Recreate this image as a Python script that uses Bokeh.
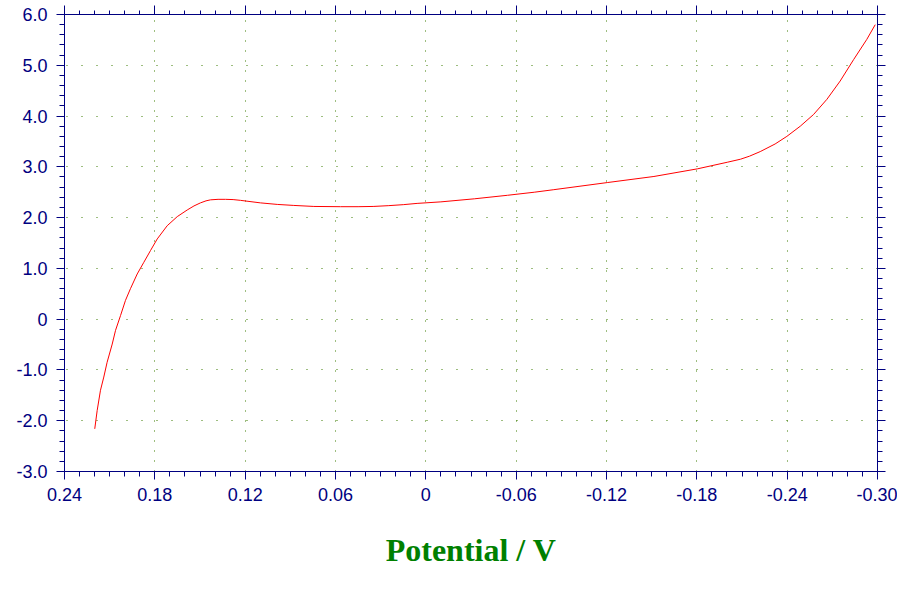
from bokeh.plotting import figure
from bokeh.models import LinearAxis, FixedTicker, Range1d, Grid
from bokeh.embed import file_html
from bokeh.resources import INLINE

# ---- data ----
potential = [0.2199, 0.2183, 0.2161, 0.2139, 0.2117, 0.2083, 0.2061, 0.2028, 0.1995,
             0.1962, 0.1917, 0.1873, 0.1829, 0.1784, 0.1718, 0.1651, 0.1585, 0.1540,
             0.1497, 0.1460, 0.1430, 0.1380, 0.1330, 0.1280, 0.1231, 0.1098, 0.0987,
             0.0877, 0.0744, 0.0567, 0.0450, 0.0350, 0.0250, 0.0150, 0.0058, -0.0100,
             -0.0322, -0.0543, -0.0720, -0.0850, -0.1205, -0.1515, -0.1803, -0.2002,
             -0.2090, -0.2150, -0.2221, -0.2320, -0.2398, -0.2487, -0.2575,
             -0.2664, -0.2752, -0.2841, -0.2929, -0.2985]
current = [-2.16, -1.80, -1.40, -1.14, -0.85, -0.49, -0.22, 0.07, 0.37,
           0.60, 0.89, 1.12, 1.35, 1.58, 1.84, 2.02, 2.15, 2.23,
           2.29, 2.33, 2.35, 2.36, 2.36, 2.355, 2.34, 2.29, 2.26,
           2.24, 2.22, 2.215, 2.215, 2.22, 2.235, 2.255, 2.28, 2.31,
           2.37, 2.44, 2.50, 2.55, 2.69, 2.81, 2.96, 3.09,
           3.15, 3.21, 3.30, 3.45, 3.60, 3.80, 4.03,
           4.33, 4.69, 5.11, 5.51, 5.80]

x_ticks = [0.24, 0.18, 0.12, 0.06, 0.0, -0.06, -0.12, -0.18, -0.24, -0.30]
x_tick_labels = ["0.24", "0.18", "0.12", "0.06", "0", "-0.06", "-0.12", "-0.18", "-0.24", "-0.30"]
y_ticks = [-3.0, -2.0, -1.0, 0.0, 1.0, 2.0, 3.0, 4.0, 5.0, 6.0]
y_tick_labels = ["-3.0", "-2.0", "-1.0", "0", "1.0", "2.0", "3.0", "4.0", "5.0", "6.0"]
x_label = "Potential / V"

x_minor = [round(0.24 - 0.01 * i, 2) for i in range(55)]
y_minor = [round(-3.0 + 0.2 * i, 1) for i in range(46)]

NAVY = "#000080"
GRID = "#3d7d00"

p = figure(width=897, height=592,
           x_range=Range1d(0.24, -0.30), y_range=Range1d(-3.0, 6.0),
           x_axis_type=None, y_axis_type=None,
           output_backend="svg", toolbar_location=None,
           min_border_left=64, min_border_right=20,
           min_border_top=14, min_border_bottom=121)
p.outline_line_color = None
p.background_fill_color = "white"
p.border_fill_color = "white"

xt = FixedTicker(ticks=x_ticks, minor_ticks=x_minor)
yt = FixedTicker(ticks=y_ticks, minor_ticks=y_minor)


def style(ax, tick_out, minor_out):
    ax.axis_line_color = NAVY
    ax.axis_line_width = 1
    ax.major_tick_line_color = NAVY
    ax.minor_tick_line_color = NAVY
    ax.major_tick_out = tick_out
    ax.major_tick_in = 0
    ax.minor_tick_out = minor_out
    ax.minor_tick_in = 0
    ax.major_label_text_color = NAVY
    ax.major_label_text_font = "Liberation Sans"
    ax.major_label_text_font_size = "18px"
    ax.major_label_standoff = 8


bottom = LinearAxis(ticker=xt,
                    major_label_overrides=dict(zip(x_ticks, x_tick_labels)))
style(bottom, 8, 5)
bottom.axis_label = x_label
bottom.axis_label_text_font = "Liberation Serif"
bottom.axis_label_text_font_style = "bold"
bottom.axis_label_text_font_size = "32px"
bottom.axis_label_text_color = "#008000"
bottom.axis_label_standoff = 28
p.add_layout(bottom, "below")

left = LinearAxis(ticker=yt,
                  major_label_overrides=dict(zip(y_ticks, y_tick_labels)))
style(left, 8, 5)
left.major_label_standoff = 9
p.add_layout(left, "left")

top = LinearAxis(ticker=xt)
style(top, 9, 4)
top.major_label_text_color = None
top.major_label_text_font_size = "0px"
top.major_label_standoff = 0
p.add_layout(top, "above")

right = LinearAxis(ticker=yt)
style(right, 8, 5)
right.major_label_text_color = None
right.major_label_text_font_size = "0px"
right.major_label_standoff = 0
p.add_layout(right, "right")

p.add_layout(Grid(dimension=0, ticker=xt, grid_line_color=GRID,
                  grid_line_dash="1 9", grid_line_width=1))
p.add_layout(Grid(dimension=1, ticker=yt, grid_line_color=GRID,
                  grid_line_dash="1 14", grid_line_width=1))

p.line(potential, current, line_color="red", line_width=1)

open("out.html", "w").write(file_html(p, INLINE))
